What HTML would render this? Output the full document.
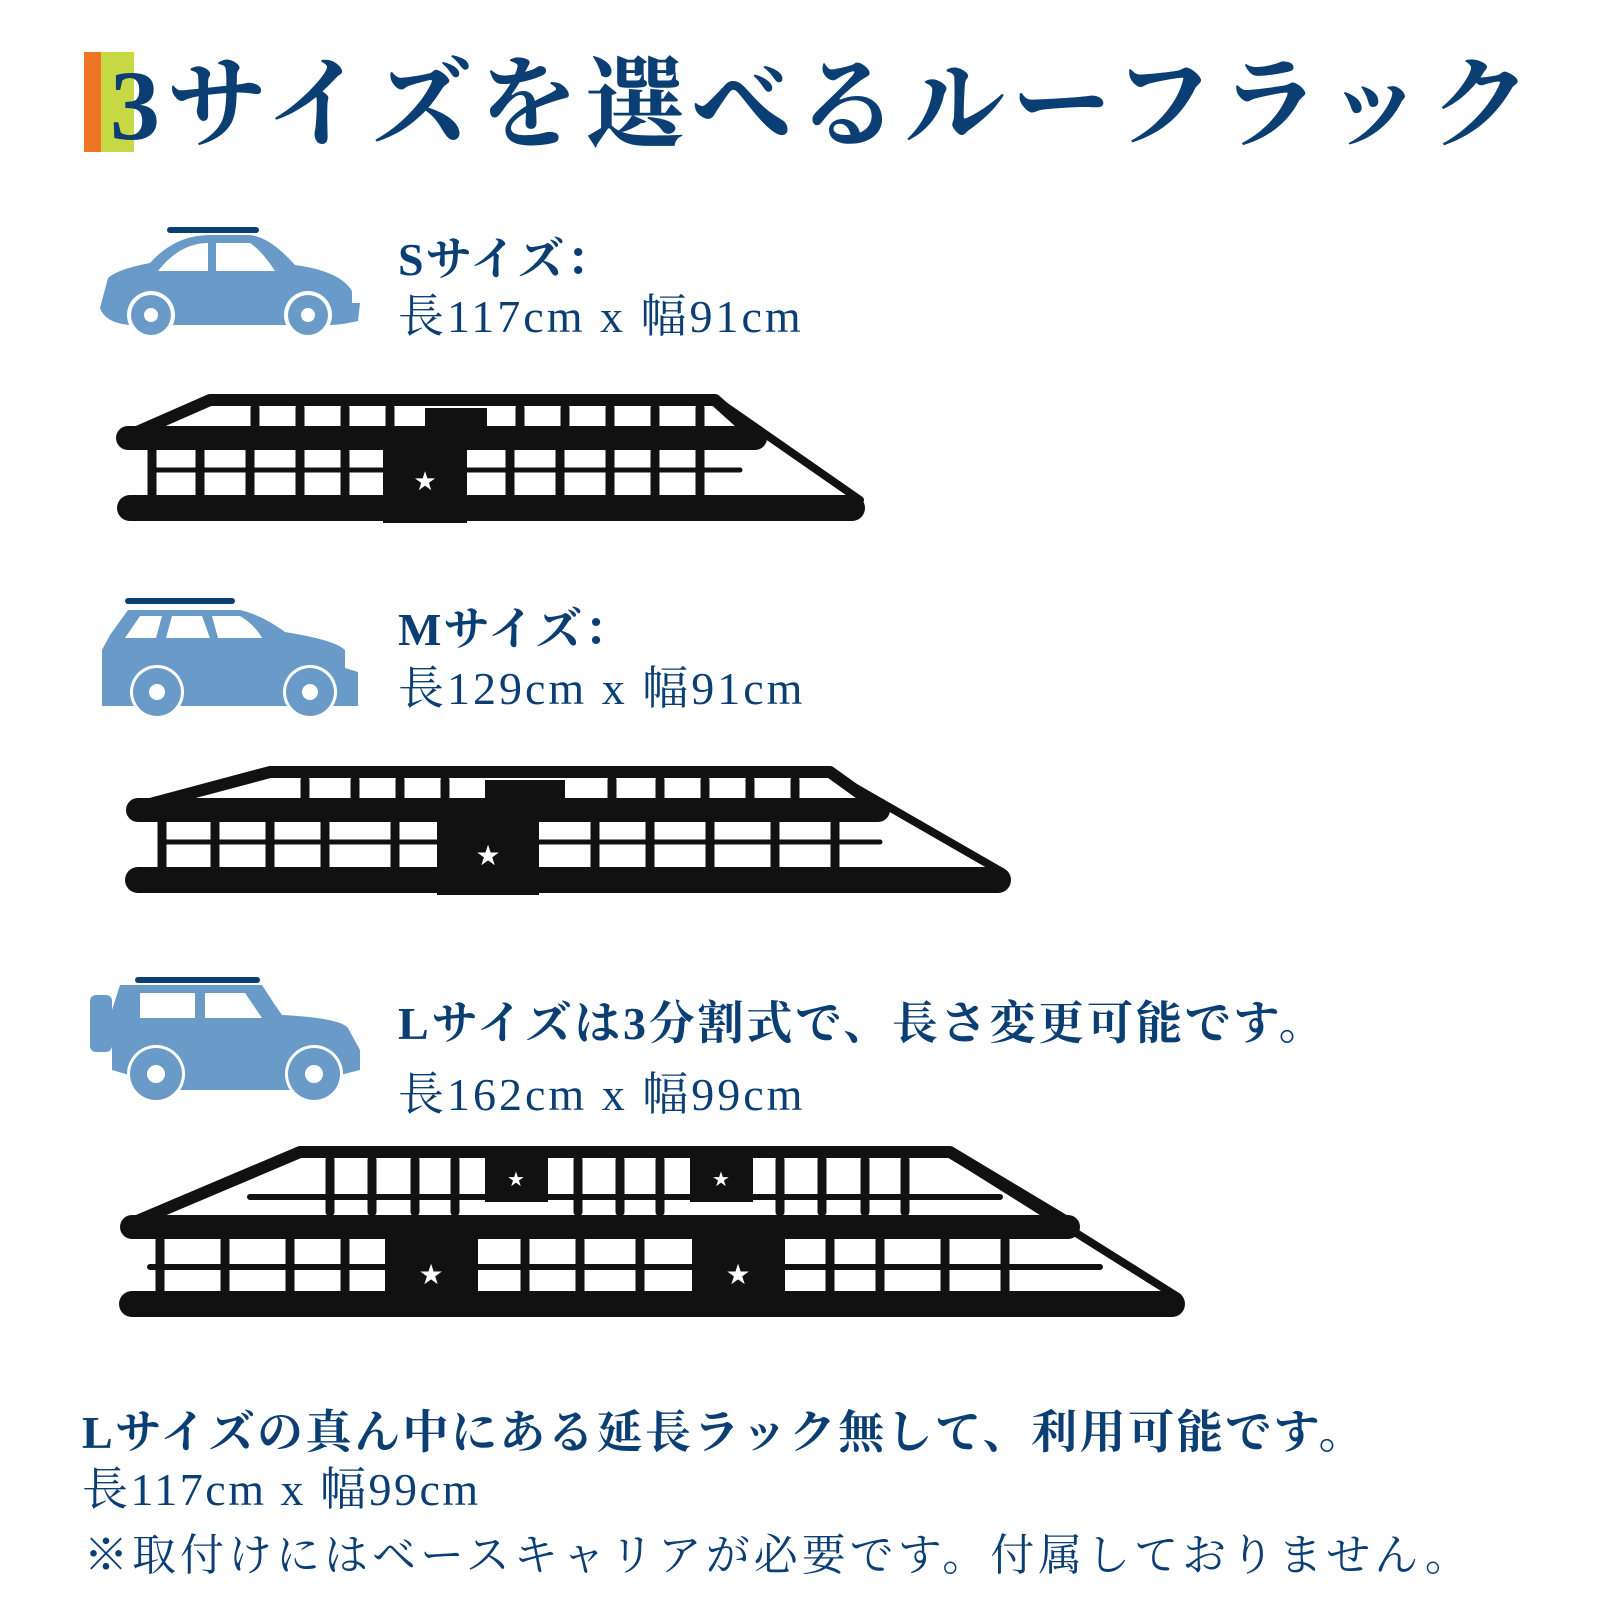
<!DOCTYPE html>
<html><head><meta charset="utf-8">
<style>
html,body{margin:0;padding:0;background:#fff;}
body{width:1600px;height:1600px;position:relative;overflow:hidden;}
.t{position:absolute;white-space:nowrap;color:#0b3f74;line-height:1;font-family:"Liberation Serif","Noto Serif CJK SC","Noto Serif CJK JP",serif;}
.b{font-weight:bold;}
</style></head><body>
<div style="position:absolute;left:84px;top:52px;width:17px;height:100px;background:#ee7526"></div>
<div style="position:absolute;left:101px;top:52px;width:33px;height:100px;background:#c6d843"></div>
<div class="t b" style="left:110px;top:56px;font-size:100px;letter-spacing:6.6px;">3サイズを選べるルーフラック</div>

<div class="t b" style="left:398px;top:237px;font-size:46px;letter-spacing:2px;">Sサイズ：</div>
<div class="t" style="left:398px;top:294px;font-size:46px;letter-spacing:3px;">長117cm x 幅91cm</div>
<div class="t b" style="left:398px;top:607px;font-size:46px;letter-spacing:2px;">Mサイズ：</div>
<div class="t" style="left:398px;top:666px;font-size:46px;letter-spacing:3px;">長129cm x 幅91cm</div>
<div class="t b" style="left:398px;top:1001px;font-size:46px;letter-spacing:2.8px;">Lサイズは3分割式で、長さ変更可能です。</div>
<div class="t" style="left:398px;top:1072px;font-size:46px;letter-spacing:3px;">長162cm x 幅99cm</div>
<div class="t b" style="left:82px;top:1410px;font-size:46px;letter-spacing:2.5px;">Lサイズの真ん中にある延長ラック無して、利用可能です。</div>
<div class="t" style="left:82px;top:1467px;font-size:46px;letter-spacing:2.5px;">長117cm x 幅99cm</div>
<div class="t" style="left:84px;top:1534px;font-size:44px;letter-spacing:4px;">※取付けにはベースキャリアが必要です。付属しておりません。</div>

<svg width="1600" height="1600" style="position:absolute;left:0;top:0" xmlns="http://www.w3.org/2000/svg">
<!-- S car -->
<g fill="#6a9bc8">
<rect x="167" y="227" width="92" height="6" rx="3" fill="#0b3f74"/>
<path d="M150 263 Q175 235 210 235 L250 235 Q270 237 295 265 Q340 271 352 291 L352 303 L360 303 L358 321 Q340 325 330 325 L130 325 Q105 323 100 308 L104 293 L108 278 Q118 269 150 263 Z"/>
</g>
<path d="M158 271 Q180 243 208 243 L208 271 Z M216 243 L250 243 Q262 251 275 271 L216 271 Z" fill="#fff"/>
<circle cx="151" cy="315" r="24" fill="#fff"/><circle cx="151" cy="315" r="20" fill="#6a9bc8"/><circle cx="151" cy="315" r="7" fill="#fff"/>
<circle cx="308" cy="315" r="24" fill="#fff"/><circle cx="308" cy="315" r="20" fill="#6a9bc8"/><circle cx="308" cy="315" r="7" fill="#fff"/>

<!-- M car -->
<rect x="125" y="598" width="110" height="6" rx="3" fill="#0b3f74"/>
<path d="M128 610 L240 610 Q262 615 285 632 Q335 640 345 650 L345 668 L358 672 L358 706 L102 706 L102 650 L110 635 Z" fill="#6a9bc8"/>
<path d="M125 638 L140 616 L162 616 L156 638 Z M166 638 L172 616 L202 616 L210 638 Z M212 616 L240 616 Q255 625 262 638 L218 638 Z" fill="#fff"/>
<circle cx="157" cy="692" r="27" fill="#fff"/><circle cx="157" cy="692" r="24" fill="#6a9bc8"/><circle cx="157" cy="692" r="8" fill="#fff"/>
<circle cx="310" cy="692" r="27" fill="#fff"/><circle cx="310" cy="692" r="24" fill="#6a9bc8"/><circle cx="310" cy="692" r="8" fill="#fff"/>

<!-- L car -->
<g transform="translate(0,10)">
<rect x="135" y="967" width="125" height="6" rx="3" fill="#0b3f74"/>
<rect x="90" y="985" width="22" height="57" rx="6" fill="#6a9bc8"/>
<path d="M120 975 L262 975 L275 995 L282 1005 Q340 1008 348 1018 L360 1040 L360 1060 L340 1065 L330 1080 L180 1080 L112 1060 L112 1000 Z" fill="#6a9bc8"/>
<path d="M140 983 L195 983 L195 1008 L140 1008 Z M205 983 L245 983 L262 1008 L205 1008 Z" fill="#fff"/>
<circle cx="156" cy="1064" r="29" fill="#fff"/><circle cx="156" cy="1064" r="26" fill="#6a9bc8"/><circle cx="156" cy="1064" r="9" fill="#fff"/>
<circle cx="314" cy="1064" r="29" fill="#fff"/><circle cx="314" cy="1064" r="26" fill="#6a9bc8"/><circle cx="314" cy="1064" r="9" fill="#fff"/>
</g>

<!-- S rack -->
<g transform="translate(0,8)">
<g stroke="#111" fill="none" stroke-linecap="round" stroke-linejoin="round">
<path d="M128 428 L210 392 L715 392 L755 428" stroke-width="12"/>
<path d="M722 396 L860 492" stroke-width="8"/>
<path d="M150 462 L740 462" stroke-width="5"/>
<g stroke-width="9">
<path d="M255 400V425M300 400V425M345 400V425M390 400V425M520 400V425M565 400V425M610 400V425M655 400V425M700 400V425"/>
<path d="M152 440V492M200 440V492M250 440V492M300 440V492M345 440V492M510 440V492M560 440V492M610 440V492M655 440V492M700 440V492"/>
</g>
<path d="M128 430 L755 430" stroke-width="24"/>
<path d="M130 500 L852 500" stroke-width="26"/>
</g>
<rect x="383" y="420" width="84" height="95" fill="#111"/>
<rect x="425" y="400" width="62" height="20" fill="#111"/>
<text x="425" y="482" font-size="26" fill="#fff" text-anchor="middle" font-family="DejaVu Sans">★</text>
</g>

<!-- M rack -->
<g transform="translate(0,10)">
<g stroke="#111" fill="none" stroke-linecap="round" stroke-linejoin="round">
<path d="M135 798 L270 762 L830 762 L880 798" stroke-width="12"/>
<path d="M835 766 L1002 862" stroke-width="8"/>
<path d="M160 832 L880 832" stroke-width="5"/>
<g stroke-width="9">
<path d="M305 770V795M355 770V795M400 770V795M445 770V795M612 770V795M660 770V795M705 770V795M750 770V795M795 770V795"/>
<path d="M162 812V862M215 812V862M270 812V862M325 812V862M395 812V862M595 812V862M650 812V862M710 812V862M775 812V862M835 812V862"/>
</g>
<path d="M138 800 L878 800" stroke-width="24"/>
<path d="M138 870 L998 870" stroke-width="26"/>
</g>
<rect x="437" y="792" width="102" height="93" fill="#111"/>
<rect x="485" y="770" width="80" height="22" fill="#111"/>
<text x="488" y="855" font-size="28" fill="#fff" text-anchor="middle" font-family="DejaVu Sans">★</text>
</g>

<!-- L rack -->
<g transform="translate(0,12)">
<g stroke="#111" fill="none" stroke-linecap="round" stroke-linejoin="round">
<path d="M130 1212 L300 1140 L950 1140 L1070 1212" stroke-width="12"/>
<path d="M955 1145 L1178 1285" stroke-width="8"/>
<path d="M250 1185 L1000 1185 M150 1255 L1100 1255" stroke-width="6"/>
<g stroke-width="9">
<path d="M330 1148V1200M372 1148V1200M415 1148V1200M455 1148V1200M578 1148V1200M620 1148V1200M660 1148V1200M780 1148V1200M822 1148V1200M865 1148V1200M905 1148V1200"/>
<path d="M160 1228V1285M225 1228V1285M290 1228V1285M345 1228V1285M525 1228V1285M580 1228V1285M640 1228V1285M830 1228V1285M880 1228V1285M945 1228V1285M1005 1228V1285"/>
</g>
<path d="M132 1215 L1068 1215" stroke-width="24"/>
<path d="M132 1292 L1172 1292" stroke-width="26"/>
</g>
<rect x="385" y="1210" width="93" height="95" fill="#111"/>
<rect x="692" y="1210" width="93" height="95" fill="#111"/>
<rect x="485" y="1145" width="63" height="45" fill="#111"/>
<rect x="690" y="1145" width="63" height="45" fill="#111"/>
<text x="431" y="1272" font-size="28" fill="#fff" text-anchor="middle" font-family="DejaVu Sans">★</text>
<text x="738" y="1272" font-size="28" fill="#fff" text-anchor="middle" font-family="DejaVu Sans">★</text>
<text x="516" y="1174" font-size="20" fill="#fff" text-anchor="middle" font-family="DejaVu Sans">★</text>
<text x="721" y="1174" font-size="20" fill="#fff" text-anchor="middle" font-family="DejaVu Sans">★</text>
</g>
</svg>
</body></html>
